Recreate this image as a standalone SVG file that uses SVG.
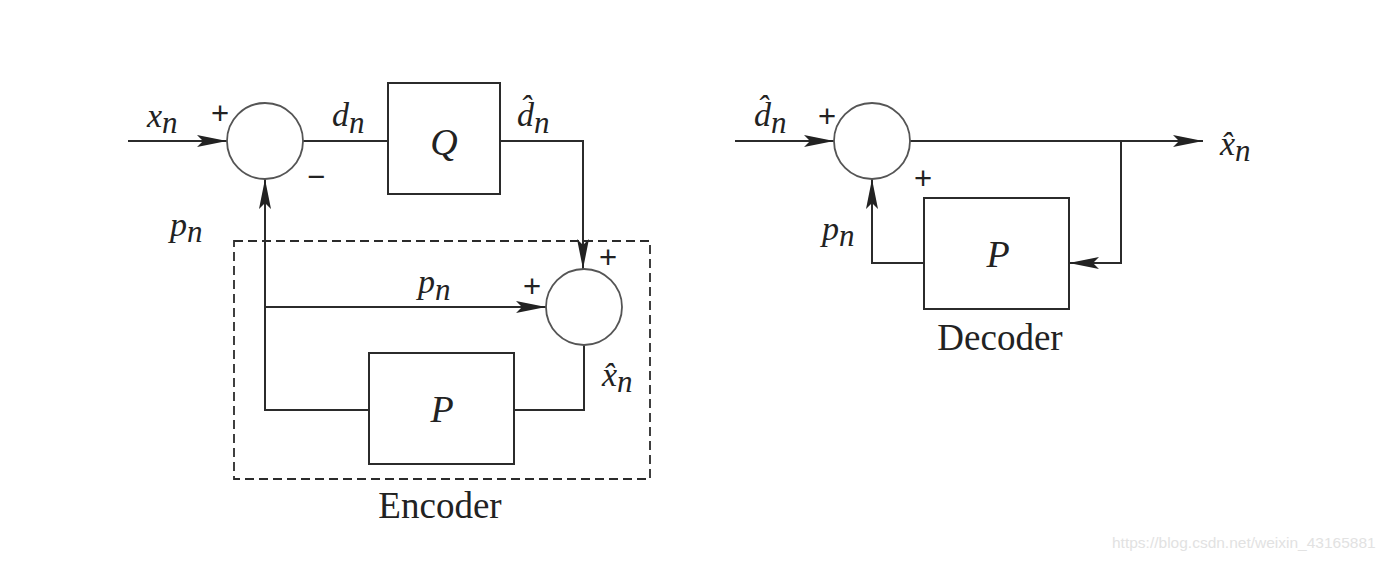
<svg xmlns="http://www.w3.org/2000/svg" width="1390" height="562" viewBox="0 0 1390 562">
<style>
.ln{fill:none;stroke:#2b2b2b;stroke-width:2}
.sum{fill:#fff;stroke:#555;stroke-width:1.8}
.box{fill:#fff;stroke:#2b2b2b;stroke-width:2}
.dash{fill:none;stroke:#2b2b2b;stroke-width:1.8;stroke-dasharray:9 5}
.it{font-family:"Liberation Serif",serif;font-style:italic;fill:#222;font-size:34px}
.sb{font-size:31px}
.big{font-family:"Liberation Serif",serif;font-style:italic;fill:#222;font-size:38px;text-anchor:middle}
.rm{font-family:"Liberation Serif",serif;fill:#222;font-size:37px;text-anchor:middle}
.sg{font-family:"Liberation Sans",sans-serif;fill:#222;font-size:31px;text-anchor:middle}
.wm{font-family:"Liberation Sans",sans-serif;fill:#e2e2e2;font-size:15.5px}
</style>
<defs>
<marker id="arr" viewBox="0 0 30 12" refX="30" refY="6" markerWidth="30" markerHeight="12" orient="auto" markerUnits="userSpaceOnUse">
<path d="M0,0 L30,6 L0,12 L6,6 z" fill="#222"/>
</marker>
</defs>
<rect width="1390" height="562" fill="#fff"/>

<g id="connectors">
<path class="ln" d="M128,141 H227" marker-end="url(#arr)"/>
<path class="ln" d="M303,141 H388"/>
<path class="ln" d="M500,141 H583 V269" marker-end="url(#arr)"/>
<path class="ln" d="M584,345 V410 H514"/>
<path class="ln" d="M369,410 H265 V179" marker-end="url(#arr)"/>
<path class="ln" d="M265,307 H546" marker-end="url(#arr)"/>
<path class="ln" d="M735,141 H834" marker-end="url(#arr)"/>
<path class="ln" d="M910,141 H1203" marker-end="url(#arr)"/>
<path class="ln" d="M1121,141 V263 H1069" marker-end="url(#arr)"/>
<path class="ln" d="M924,263 H872 V179" marker-end="url(#arr)"/>
</g>

<g id="encoder-box">
<rect class="dash" x="234" y="241" width="416" height="238"/>
<text class="rm" x="440" y="518">Encoder</text>
</g>

<g id="enc-sum1">
<circle class="sum" cx="265" cy="141" r="38"/>
<text class="sg" x="220" y="124">+</text>
<text class="sg" x="316" y="187">−</text>
</g>

<g id="enc-Q">
<rect class="box" x="388" y="83" width="112" height="111"/>
<text class="big" x="444" y="155">Q</text>
</g>

<g id="enc-sum2">
<circle class="sum" cx="584" cy="307" r="38"/>
<text class="sg" x="532" y="297">+</text>
<text class="sg" x="608" y="268">+</text>
</g>

<g id="enc-P">
<rect class="box" x="369" y="353" width="145" height="111"/>
<text class="big" x="442" y="422">P</text>
</g>

<g id="enc-labels">
<text class="it" x="147" y="127">x<tspan class="sb" dy="6">n</tspan></text>
<text class="it" x="332" y="126">d<tspan class="sb" dy="7">n</tspan></text>
<text class="it" x="517" y="126">d̂<tspan class="sb" dy="7">n</tspan></text>
<text class="it" x="170" y="236">p<tspan class="sb" dy="6">n</tspan></text>
<text class="it" x="418" y="293">p<tspan class="sb" dy="7">n</tspan></text>
<text class="it" x="602" y="386">x̂<tspan class="sb" dy="6">n</tspan></text>
</g>

<g id="dec-sum">
<circle class="sum" cx="872" cy="141" r="38"/>
<text class="sg" x="827" y="127">+</text>
<text class="sg" x="923" y="189">+</text>
</g>

<g id="dec-P">
<rect class="box" x="924" y="198" width="145" height="111"/>
<text class="big" x="998" y="267">P</text>
<text class="rm" x="1000" y="350">Decoder</text>
</g>

<g id="dec-labels">
<text class="it" x="754" y="126">d̂<tspan class="sb" dy="7">n</tspan></text>
<text class="it" x="822" y="240">p<tspan class="sb" dy="6">n</tspan></text>
<text class="it" x="1220" y="155">x̂<tspan class="sb" dy="6">n</tspan></text>
</g>

<text class="wm" x="1112" y="548">https://blog.csdn.net/weixin_43165881</text>
</svg>
